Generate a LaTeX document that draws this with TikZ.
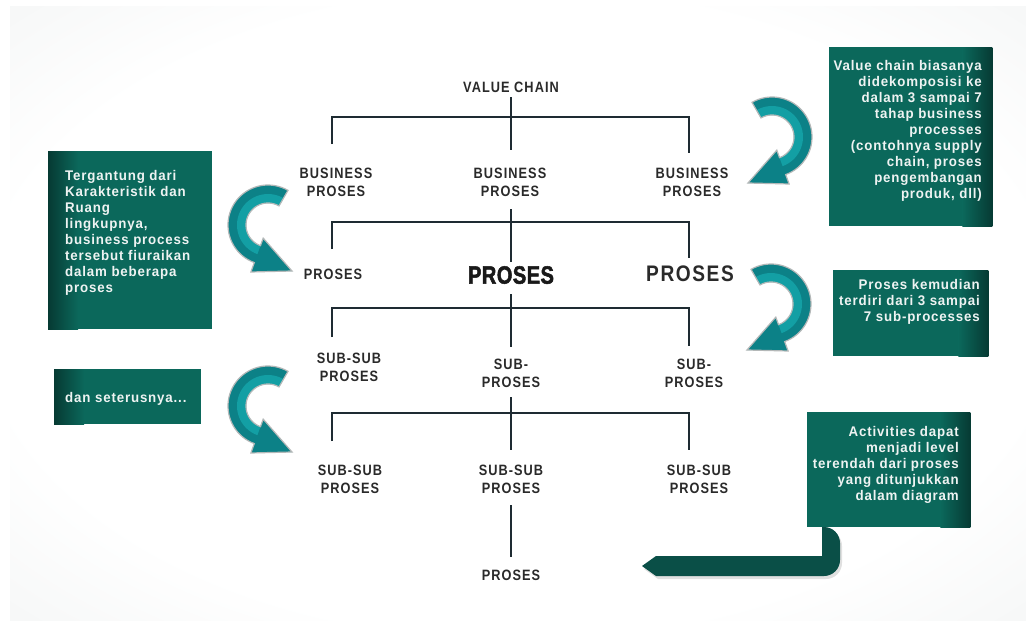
\documentclass[tikz,border=0pt]{standalone}
\usepackage{fontspec}
\setmainfont{Liberation Sans}
\newfontfamily\lblfont[FakeStretch=0.85,LetterSpace=7]{Liberation Sans}
\newfontfamily\bigfont[FakeStretch=0.8,LetterSpace=2,FakeBold=2]{Liberation Sans}
\newfontfamily\boxfont[FakeStretch=0.95,LetterSpace=6]{Liberation Sans}
\definecolor{boxg}{HTML}{0B685B}
\definecolor{boxd}{HTML}{063A33}
\definecolor{tealA}{HTML}{0C8187}
\definecolor{tealB}{HTML}{139FA4}
\definecolor{linec}{HTML}{1E2B32}
\definecolor{txt}{HTML}{2A2A2A}
\definecolor{bgmid}{HTML}{E9ECEC}
\definecolor{bgc}{HTML}{C4D2D2}
\definecolor{barg}{HTML}{0A4F47}
\definecolor{boxtxt}{HTML}{EEF3F2}
\definecolor{outl}{HTML}{B4B8B8}
\pgfdeclareradialshading{bgshade}{\pgfpoint{0bp}{0bp}}{color(0bp)=(white); color(26bp)=(white); color(50bp)=(bgmid); color(72bp)=(bgc)}
\tikzset{
  tline/.style={draw=linec, line width=2.2pt},
  lbl/.style={font=\lblfont\bfseries\fontsize{15}{18}\selectfont, text=txt, align=center, inner sep=0pt, anchor=north},
  btxt/.style={font=\boxfont\bfseries\fontsize{14}{16}\selectfont, text=boxtxt, inner sep=0pt},
  gbox/.style={fill=boxg, draw=none, inner sep=0pt, anchor=north west}
}
\newcommand\cvarrow[6]{%
  \fill[tealA] plot[domain=#3:#4, samples=40] ({#1+40*cos(\x)},{#2+40*sin(\x)})
     -- ({#1+50*cos(#4)},{#2+50*sin(#4)}) -- (#1+#5,#2+#6)
     -- ({#1+14*cos(#4)},{#2+14*sin(#4)})
     -- plot[domain=#4:#3, samples=40] ({#1+22*cos(\x)},{#2+22*sin(\x)}) -- cycle;
  \fill[tealB] plot[domain=#3:#4, samples=40] ({#1+31*cos(\x)},{#2+31*sin(\x)})
     -- ({#1+31*cos(#4)},{#2+31*sin(#4)}) -- ({#1+14*cos(#4)},{#2+14*sin(#4)})
     -- plot[domain=#4:#3, samples=40] ({#1+22*cos(\x)},{#2+22*sin(\x)}) -- cycle;
  \draw[outl, line width=1.2pt, line join=miter] plot[domain=#3:#4, samples=40] ({#1+40*cos(\x)},{#2+40*sin(\x)})
     -- ({#1+50*cos(#4)},{#2+50*sin(#4)}) -- (#1+#5,#2+#6)
     -- ({#1+14*cos(#4)},{#2+14*sin(#4)})
     -- plot[domain=#4:#3, samples=40] ({#1+22*cos(\x)},{#2+22*sin(\x)}) -- cycle;
}
\begin{document}
\begin{tikzpicture}[x=1pt,y=-1pt]
\useasboundingbox (0,0) rectangle (1026,621);
\fill[white] (0,0) rectangle (1026,621);
\shade[shading=bgshade] (10,6) rectangle (1026,621);

% ---------- tree labels ----------
\node[lbl] (vc) at (511,81.6) {VALUE CHAIN};
\node[lbl] (b1) at (336,167.6) {BUSINESS\\PROSES};
\node[lbl] (b2) at (510,167.6) {BUSINESS\\PROSES};
\node[lbl] (b3) at (692,167.6) {BUSINESS\\PROSES};
\node[lbl] (p1) at (333,268.6) {PROSES};
\node[lbl, font=\bigfont\bfseries\fontsize{25}{28}\selectfont, text=black!90] (p2) at (511,266) {PROSES};
\node[lbl, font=\lblfont\bfseries\fontsize{22.5}{26}\selectfont] (p3) at (690,266) {PROSES};
\node[lbl] (s1) at (349,352.6) {SUB-SUB\\PROSES};
\node[lbl] (s2) at (511,358.6) {SUB-\\PROSES};
\node[lbl] (s3) at (694,358.6) {SUB-\\PROSES};
\node[lbl] (ss1) at (350,464.6) {SUB-SUB\\PROSES};
\node[lbl] (ss2) at (511,464.6) {SUB-SUB\\PROSES};
\node[lbl] (ss3) at (699,464.6) {SUB-SUB\\PROSES};
\node[lbl] (pb) at (511,569.6) {PROSES};

% ---------- tree connectors ----------
\coordinate (t1top) at (511,97);  \coordinate (t1c) at (511,150);
\coordinate (t1l) at (332,144);   \coordinate (t1r) at (689,153);
\draw[tline] (t1top) -- (t1c);
\draw[tline] (t1l) -- (332,117) -- (689,117) -- (t1r);

\coordinate (t2top) at (511,209); \coordinate (t2c) at (511,262);
\coordinate (t2l) at (332,249);   \coordinate (t2r) at (689,258);
\draw[tline] (t2top) -- (t2c);
\draw[tline] (t2l) -- (332,222) -- (689,222) -- (t2r);

\coordinate (t3top) at (511,294); \coordinate (t3c) at (511,347);
\coordinate (t3l) at (332,337);   \coordinate (t3r) at (689,346);
\draw[tline] (t3top) -- (t3c);
\draw[tline] (t3l) -- (332,308) -- (689,308) -- (t3r);

\coordinate (t4top) at (511,397); \coordinate (t4c) at (511,450);
\coordinate (t4l) at (332,441);   \coordinate (t4r) at (689,450);
\draw[tline] (t4top) -- (t4c);
\draw[tline] (t4l) -- (332,413) -- (689,413) -- (t4r);

\coordinate (t5top) at (511,505); \coordinate (t5c) at (511,557);
\draw[tline] (t5top) -- (t5c);

% ---------- curved arrows ----------
\cvarrow{772}{137}{-120}{70}{-24}{46}
\cvarrow{771}{304}{-120}{70}{-24}{46}
\cvarrow{268}{225}{-60}{-250}{24}{46}
\cvarrow{268}{406}{-60}{-250}{24}{46}

% ---------- bottom bent arrow ----------
\fill[black, opacity=0.12] (824,530) -- (824,559) -- (658,559) -- (644,569) -- (658,579)
  {[rounded corners=16pt] -- (842,579) -- (842,530)} -- cycle;
\fill[barg] (822,527) -- (822,556) -- (656,556) -- (642,566) -- (656,576)
  {[rounded corners=16pt] -- (840,576) -- (840,527)} -- cycle;

% ---------- boxes ----------
% box 1 (top right)
\node[gbox, minimum width=163pt, minimum height=179pt] (bx1) at (829,47) {};
\shade[left color=boxg, right color=boxd] ([xshift=-30pt]bx1.north east) rectangle (bx1.south east);
\node[btxt, anchor=north east, align=right] (tx1) at (982,60)
  {Value chain biasanya\\didekomposisi ke\\dalam 3 sampai 7\\tahap business\\processes\\(contohnya supply\\chain, proses\\pengembangan\\produk, dll)};

% box 2 (left)
\node[gbox, minimum width=164pt, minimum height=178pt] (bx2) at (48,151) {};
\shade[left color=boxd, right color=boxg] (bx2.north west) rectangle ([xshift=30pt]bx2.south west);
\node[btxt, anchor=north west, align=left] (tx2) at (65,170)
  {Tergantung dari\\Karakteristik dan\\Ruang\\lingkupnya,\\business process\\tersebut fiuraikan\\dalam beberapa\\proses};

% box 3 (dan seterusnya)
\node[gbox, minimum width=147pt, minimum height=55pt] (bx3) at (54,369) {};
\shade[left color=boxd, right color=boxg] (bx3.north west) rectangle ([xshift=30pt]bx3.south west);
\node[btxt, anchor=north west, align=left] (tx3) at (65,392) {dan seterusnya...};

% box 4 (right middle)
\node[gbox, minimum width=155pt, minimum height=86pt] (bx4) at (833,270) {};
\shade[left color=boxg, right color=boxd] ([xshift=-30pt]bx4.north east) rectangle (bx4.south east);
\node[btxt, anchor=north east, align=right] (tx4) at (980,279)
  {Proses kemudian\\terdiri dari 3 sampai\\7 sub-processes};

% box 5 (bottom right)
\node[gbox, minimum width=163pt, minimum height=115pt] (bx5) at (807,412) {};
\shade[left color=boxg, right color=boxd] ([xshift=-30pt]bx5.north east) rectangle (bx5.south east);
\node[btxt, anchor=north east, align=right] (tx5) at (959,426)
  {Activities dapat\\menjadi level\\terendah dari proses\\yang ditunjukkan\\dalam diagram};
\end{tikzpicture}
\end{document}
